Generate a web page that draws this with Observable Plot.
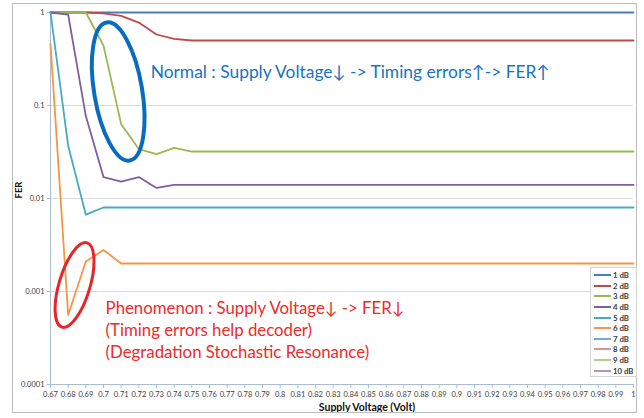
<!DOCTYPE html>
<html><head><meta charset="utf-8">
<script src="https://cdn.jsdelivr.net/npm/d3@7"></script>
<script src="https://cdn.jsdelivr.net/npm/@observablehq/plot@0.6"></script>
<style>
body{margin:0;background:#fff;}
#wrap{position:relative;width:644px;height:418px;font-family:Lato,"Open Sans",sans-serif;}
#wrap svg{position:absolute;left:0;top:0;}
#frame{position:absolute;left:12px;top:3px;width:625px;height:410px;border:1px solid #bdbdbd;pointer-events:none;box-sizing:border-box;}
#legend{position:absolute;left:590px;top:267px;width:47px;height:110px;border:1px solid #d4d4d4;background:#fff;box-sizing:border-box;padding-top:2px;}
.li{display:flex;align-items:center;height:10.6px;font-size:7.8px;font-weight:bold;color:#3a3a3a;white-space:nowrap;}
.sw{width:17px;height:2px;margin:0 2px 0 3px;flex:none;}
</style></head>
<body><div id="wrap"><div id="frame"></div></div>
<script>
// x categories (Supply Voltage)
const voltLabels = ["0.67","0.68","0.69","0.7","0.71","0.72","0.73","0.74","0.75","0.76","0.77","0.78","0.79","0.8","0.81","0.82","0.83","0.84","0.85","0.86","0.87","0.88","0.89","0.9","0.91","0.92","0.93","0.94","0.95","0.96","0.97","0.98","0.99","1"];
const voltValues = voltLabels.map(Number);

// y ticks
const ferTicks = [0.0001, 0.001, 0.01, 0.1, 1];
const ferTickLabels = ["0.0001", "0.001", "0.01", "0.1", "1"];

// series
const seriesNames = ["1 dB","2 dB","3 dB","4 dB","5 dB","6 dB","7 dB","8 dB","9 dB","10 dB"];
const seriesColors = ["#4a7ebb","#be4b48","#98b954","#7d60a0","#46aac5","#f69545","#74a9dc","#d99490","#a9d48e","#a89bcc"];
const fer1 = [1,1,1,1,1,1,1,1,1,1,1,1,1,1,1,1,1,1,1,1,1,1,1,1,1,1,1,1,1,1,1,1,1,1];
const fer2 = [1,1,1,0.98,0.92,0.78,0.58,0.52,0.5,0.5,0.5,0.5,0.5,0.5,0.5,0.5,0.5,0.5,0.5,0.5,0.5,0.5,0.5,0.5,0.5,0.5,0.5,0.5,0.5,0.5,0.5,0.5,0.5,0.5];
const fer3 = [1,1,1,0.44,0.063,0.034,0.030,0.035,0.032,0.032,0.032,0.032,0.032,0.032,0.032,0.032,0.032,0.032,0.032,0.032,0.032,0.032,0.032,0.032,0.032,0.032,0.032,0.032,0.032,0.032,0.032,0.032,0.032,0.032];
const fer4 = [1,0.95,0.077,0.017,0.0152,0.017,0.013,0.014,0.014,0.014,0.014,0.014,0.014,0.014,0.014,0.014,0.014,0.014,0.014,0.014,0.014,0.014,0.014,0.014,0.014,0.014,0.014,0.014,0.014,0.014,0.014,0.014,0.014,0.014];
const fer5 = [1,0.037,0.0067,0.008,0.008,0.008,0.008,0.008,0.008,0.008,0.008,0.008,0.008,0.008,0.008,0.008,0.008,0.008,0.008,0.008,0.008,0.008,0.008,0.008,0.008,0.008,0.008,0.008,0.008,0.008,0.008,0.008,0.008,0.008];
const fer6 = [0.46,0.00056,0.0021,0.0028,0.002,0.002,0.002,0.002,0.002,0.002,0.002,0.002,0.002,0.002,0.002,0.002,0.002,0.002,0.002,0.002,0.002,0.002,0.002,0.002,0.002,0.002,0.002,0.002,0.002,0.002,0.002,0.002,0.002,0.002];
const fer7 = [];
const fer8 = [];
const fer9 = [];
const fer10 = [];
const seriesValues = [fer1,fer2,fer3,fer4,fer5,fer6,fer7,fer8,fer9,fer10];

// annotations
const noteTexts = ["Normal : Supply Voltage\u2193 -> Timing errors\u2191-> FER\u2191",
                   "Phenomenon : Supply Voltage\u2193 -> FER\u2193\n(Timing errors help decoder)\n(Degradation Stochastic Resonance)"];
const noteX = [0.7267, 0.7012];
const noteY = [0.2, 0.000195];
const noteColors = ["#1a73c0", "#ee2a2a"];
const ellipseX = [0.7086, 0.6839];
const ellipseY = [0.1396, 0.00116];
const ellipseColors = ["#0a6cbf", "#e8232a"];

const rows = [];
seriesNames.forEach((s, k) => seriesValues[k].forEach((v, i) => rows.push({volt: voltValues[i], fer: v, series: s})));
const xLab = new Map(voltValues.map((v, i) => [v, voltLabels[i]]));
const yLab = new Map(ferTicks.map((v, i) => [v, ferTickLabels[i]]));

const ellipseStyle = [{rx: 24, ry: 70, angle: -9.5, width: 4}, {rx: 15.5, ry: 44, angle: 16.6, width: 3}];
function ellipses(index, scales) {
  const g = d3.create("svg:g");
  ellipseX.forEach((x, i) => {
    const s = ellipseStyle[i];
    g.append("ellipse")
      .attr("transform", `translate(${scales.x(x)},${scales.y(ellipseY[i])}) rotate(${s.angle})`)
      .attr("rx", s.rx).attr("ry", s.ry)
      .attr("fill", "none").attr("stroke", ellipseColors[i]).attr("stroke-width", s.width);
  });
  return g.node();
}

const notes = noteTexts.map((t, i) => ({t, x: noteX[i], y: noteY[i], c: noteColors[i]}));

const chart = Plot.plot({
  width: 644, height: 418,
  marginLeft: 50, marginRight: 11, marginTop: 12, marginBottom: 34,
  style: {background: "transparent", fontFamily: "Lato, 'Open Sans', sans-serif", overflow: "visible"},
  x: {type: "linear", domain: [0.67, 1]},
  y: {type: "log", domain: [0.0001, 1]},
  color: {domain: seriesNames, range: seriesColors},
  marks: [
    Plot.ruleY(ferTicks, {stroke: "#d8dce2", strokeWidth: 1}),
    Plot.axisY({ticks: ferTicks, tickFormat: d => yLab.get(d), tickSize: 3, tickPadding: 3, fontSize: 7.5, stroke: "#a9bcd2", fill: "#404040", label: null}),
    Plot.axisX({ticks: voltValues, tickFormat: d => xLab.get(d), tickSize: 4, tickPadding: 3.5, fontSize: 7.5, stroke: "#a9bcd2", fill: "#404040", label: null}),
    Plot.ruleX([0.67], {stroke: "#a9bcd2"}),
    Plot.ruleY([0.0001], {stroke: "#a9bcd2"}),
    Plot.line(rows, {x: "volt", y: "fer", z: "series", stroke: "series", strokeWidth: 1.8, strokeLinejoin: "round"}),
    ellipses,
    Plot.text(notes.slice(0, 1), {x: "x", y: "y", text: "t", fill: "c", fontSize: 17.4, textAnchor: "start", lineAnchor: "bottom"}),
    Plot.text(notes.slice(1), {x: "x", y: "y", text: "t", fill: "c", fontSize: 16.8, lineHeight: 1.31, textAnchor: "start", lineAnchor: "bottom"}),
    Plot.text(["FER"], {frameAnchor: "left", dx: -32, rotate: -90, fontSize: 9.5, fontWeight: "bold", fill: "#111"}),
    Plot.text(["Supply Voltage (Volt)"], {frameAnchor: "bottom", dx: 25, dy: 26, lineAnchor: "bottom", fontSize: 10.5, fontWeight: "bold", fill: "#111"})
  ]
});
const wrap = document.getElementById("wrap");
wrap.insertBefore(chart, wrap.firstChild);

// legend
const legend = document.createElement("div");
legend.id = "legend";
seriesNames.forEach((s, i) => {
  const li = document.createElement("div");
  li.className = "li";
  const sw = document.createElement("span");
  sw.className = "sw";
  sw.style.background = seriesColors[i];
  li.appendChild(sw);
  li.appendChild(document.createTextNode(s));
  legend.appendChild(li);
});
wrap.appendChild(legend);
</script>
</body></html>
